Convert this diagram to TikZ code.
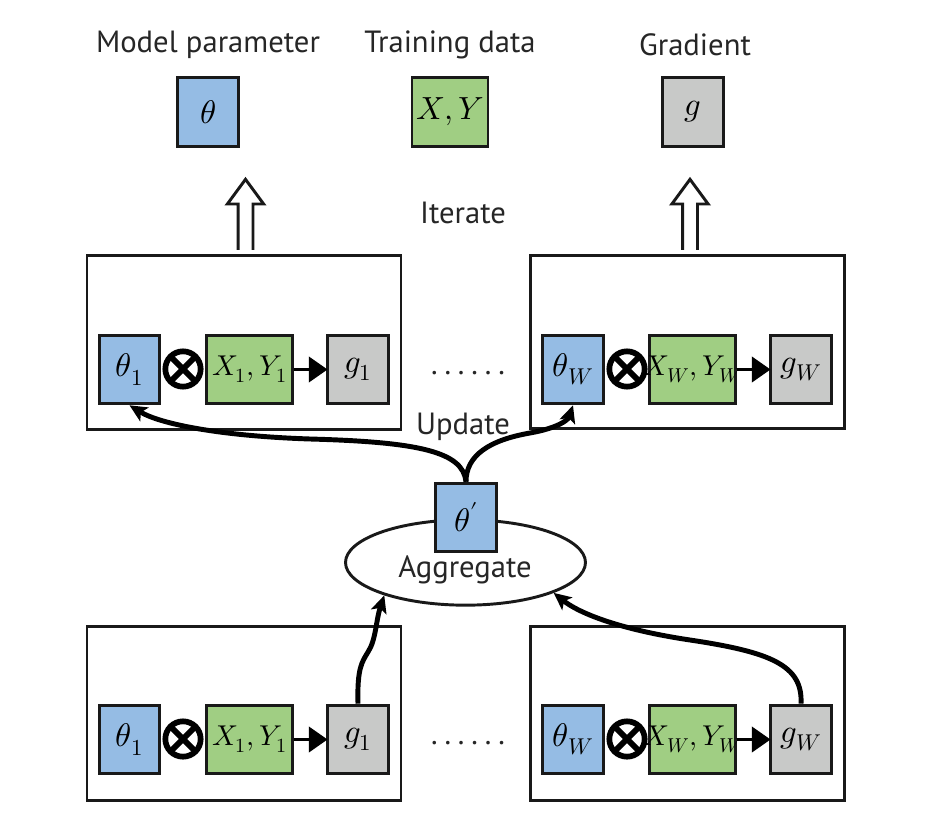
\documentclass[tikz,border=0pt]{standalone}
\usepackage{fontspec}
\setmainfont{PT Sans}
\usepackage{unicode-math}
\usetikzlibrary{arrows.meta,shapes.geometric}
\definecolor{pblue}{RGB}{149,188,228}
\definecolor{pgreen}{RGB}{160,206,131}
\definecolor{pgray}{RGB}{200,201,200}
\tikzset{
  box/.style={draw=black!90, line width=2.2pt, minimum height=51.5pt, minimum width=45.5pt, inner sep=0pt, font=\fontsize{24.5}{26}\selectfont},
  bluebox/.style={box, fill=pblue},
  greenbox/.style={box, fill=pgreen, minimum width=64pt, font=\fontsize{21.5}{24}\selectfont},
  graybox/.style={box, fill=pgray},
  panel/.style={draw=black!90, line width=2.2pt, minimum width=235.5pt, minimum height=130pt, inner sep=0pt},
  lbl/.style={font=\fontsize{23}{26}\selectfont, text=black!85, inner sep=0pt},
  dotslbl/.style={font=\fontsize{23}{26}\selectfont\addfontfeatures{LetterSpace=16}, text=black!85, inner sep=0pt},
  otimesnode/.style={circle, draw=black, line width=4.3pt, minimum size=26.5pt, inner sep=0pt,
    path picture={\draw[line width=4.3pt] (path picture bounding box.north west) -- (path picture bounding box.south east)
      (path picture bounding box.north east) -- (path picture bounding box.south west);}},
  flow/.style={line width=3.7pt, -{Stealth[length=13pt,width=12pt,inset=3pt]}},
  fwd/.style={line width=2.2pt, -{Triangle[length=14pt,width=19pt]}, shorten >=-1pt},
  hollow/.style={draw=black!90, line width=2.2pt, fill=white, line join=miter}
}
\newcommand{\pairxy}[2]{\makebox[40pt][c]{$#1{,}\mkern3mu#2$}}
\begin{document}
\begin{tikzpicture}[x=0.75pt,y=-0.75pt]
\useasboundingbox (0,0) rectangle (935,827);
% legend
\node[lbl] (lmp) at (208,45) {Model parameter};
\node[lbl] (ltd) at (450,45) {Training data};
\node[lbl] (lgr) at (695,45) {Gradient};
\node[bluebox] (lt) at (208,112) {$\theta$};
\node[greenbox, minimum width=57pt, font=\fontsize{24}{26}\selectfont] (lxy) at (450,112) {\pairxy{X}{Y}};
\node[graybox] (lg) at (693,112) {$g$};
% hollow arrows
\coordinate (ha1) at (245.5,250);
\coordinate (ha2) at (690,250);
\foreach \c in {ha1,ha2}{
  \draw[hollow] ([xshift=-5.6pt]\c) -- ([xshift=-5.6pt,yshift=34.5pt]\c) -- ([xshift=-13.6pt,yshift=34.5pt]\c) -- ([yshift=53pt]\c) -- ([xshift=13.6pt,yshift=34.5pt]\c) -- ([xshift=5.6pt,yshift=34.5pt]\c) -- ([xshift=5.6pt]\c);
}
\node[lbl] (iter) at (463,213) {Iterate};
% top panels
\node[panel] (ptl) at (244,342.5) {};
\node[panel] (ptr) at (687.5,342) {};
\node[bluebox] (t1a) at (129.5,369.5) {$\theta_1$};
\node[otimesnode] (o1a) at (183,369) {};
\node[greenbox] (x1a) at (249.5,369.5) {\pairxy{X_1}{Y_1}};
\node[graybox] (g1a) at (358,369.5) {$g_1$};
\draw[fwd] (x1a) -- (g1a);
\node[bluebox] (twa) at (573,369.5) {$\theta_W$};
\node[otimesnode] (owa) at (627,369) {};
\node[greenbox] (xwa) at (692.5,369.5) {\pairxy{X_W}{Y_W}};
\node[graybox] (gwa) at (801,369.5) {$g_W$};
\draw[fwd] (xwa) -- (gwa);
\node[dotslbl] (dta) at (468,373) {......};
% aggregate
\node[ellipse, draw=black!90, line width=2.2pt, minimum width=180pt, minimum height=64pt, inner sep=0pt] (agg) at (465.5,562.5) {};
\node[lbl] (aggl) at (465,570) {Aggregate};
\node[bluebox] (tp) at (466,517.5) {$\theta'$};
\node[lbl] (upd) at (463,427) {Update};
\draw[flow] (tp.north) .. controls (463,452) and (420,442) .. (310,439) .. controls (220,436) and (160,424) .. (t1a.south);
\draw[flow] (tp.north) .. controls (466,455) and (490,440) .. (530,433) .. controls (558,428) and (568,420) .. (twa.south);
% bottom panels
\node[panel] (pbl) at (244,713.5) {};
\node[panel] (pbr) at (687.5,713.5) {};
\node[bluebox] (t1b) at (129.5,739.5) {$\theta_1$};
\node[otimesnode] (o1b) at (183,739) {};
\node[greenbox] (x1b) at (249.5,739.5) {\pairxy{X_1}{Y_1}};
\node[graybox] (g1b) at (358,739.5) {$g_1$};
\draw[fwd] (x1b) -- (g1b);
\node[bluebox] (twb) at (573,739.5) {$\theta_W$};
\node[otimesnode] (owb) at (627,739) {};
\node[greenbox] (xwb) at (692.5,739.5) {\pairxy{X_W}{Y_W}};
\node[graybox] (gwb) at (801,739.5) {$g_W$};
\draw[fwd] (xwb) -- (gwb);
\node[dotslbl] (dtb) at (468,743) {......};
\draw[flow] (g1b.north) .. controls (357,668) and (362,662) .. (368,652) .. controls (376,640) and (376,620) .. (agg.202);
\draw[flow] (gwb.north) .. controls (803,665) and (770,652) .. (690,640) .. controls (610,628) and (575,610) .. (agg.341);
\end{tikzpicture}
\end{document}
